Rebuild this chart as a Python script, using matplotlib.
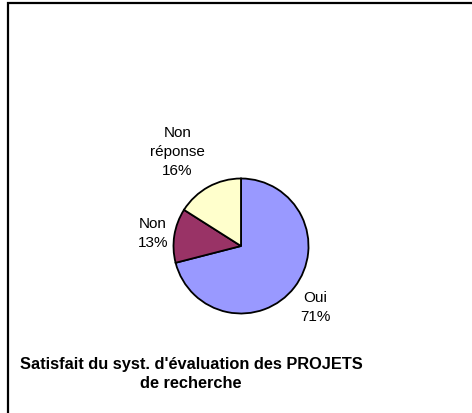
import numpy as np
import matplotlib
matplotlib.use("Agg")
import matplotlib.pyplot as plt
from matplotlib.patches import Rectangle

labels = ["Oui", "Non", "Non\nréponse"]
values = [71, 13, 16]
colors = ["#9999FF", "#993366", "#FFFFCC"]
title = "Satisfait du syst. d'évaluation des PROJETS\nde recherche"

plt.rcParams['font.family'] = ['Liberation Sans', 'DejaVu Sans']

W, H = 472, 414
fig = plt.figure(figsize=(W / 100, H / 100), dpi=100)

# outer frame
fig.patches.append(Rectangle((8 / W, -0.1), 1.2, (H - 4) / H + 0.1, transform=fig.transFigure,
                             fill=False, edgecolor="black", linewidth=1.6))

cx, cy, r = 241, 247, 67.5
ax = fig.add_axes([(cx - r) / W, (H - cy - r) / H, 2 * r / W, 2 * r / H])
wedges, _ = ax.pie(values, colors=colors, startangle=90, counterclock=False,
                   wedgeprops=dict(edgecolor="black", linewidth=1.3))
ax.set_xlim(-1, 1)
ax.set_ylim(-1, 1)
ax.set_aspect("equal")

# label placement: radial distance and angle tweak per slice
dists = [1.42, 1.32, 1.69]
shifts = [-1.5, 0.5, 5.0]
for w, lab, v, d, s in zip(wedges, labels, values, dists, shifts):
    ang = np.deg2rad((w.theta1 + w.theta2) / 2 + s)
    ax.text(d * np.cos(ang), d * np.sin(ang), f"{lab}\n{v}%", ha="center", va="center",
            fontsize=11, linespacing=1.45, clip_on=False)

fig.text(191 / W, 1 - 374 / H, title, ha="center", va="center", fontsize=11.8,
         fontweight="bold", linespacing=1.35)

fig.savefig("out.png", dpi=100)
